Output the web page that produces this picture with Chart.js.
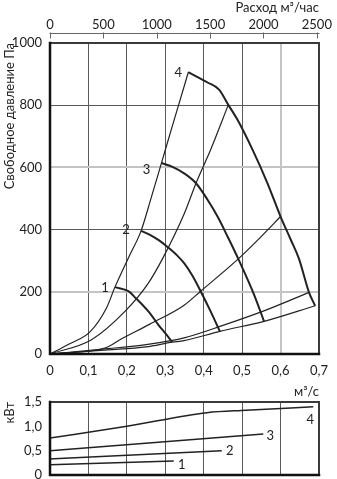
<!DOCTYPE html>
<html>
<head>
<meta charset="utf-8">
<script src="https://cdn.jsdelivr.net/npm/chart.js@4.4.0/dist/chart.umd.min.js"></script>
<style>
  body { margin: 0; background: #fff; }
  #wrap { position: relative; width: 337px; height: 479px; }
  #pressureChart { position: absolute; left: 0; top: 0; }
  #powerChart { position: absolute; left: 0; top: 380px; }
</style>
</head>
<body>
<div id="wrap">
  <canvas id="pressureChart" width="337" height="400"></canvas>
  <canvas id="powerChart" width="337" height="99"></canvas>
</div>
<script>
// axis ticks
const flowTicks = [0, 0.1, 0.2, 0.3, 0.4, 0.5, 0.6, 0.7];       // м³/с
const hourTicks = [0, 500, 1000, 1500, 2000, 2500];             // м³/час
const pressureTicks = [0, 200, 400, 600, 800, 1000];            // Па
const powerTicks = [0, 0.5, 1, 1.5];                            // кВт

// fan curves 1..4, [flow m³/s, pressure Pa]
const fan1 = [[0.169, 215], [0.204, 202], [0.223, 180], [0.256, 137], [0.282, 94], [0.303, 62], [0.318, 38]];
const fan2 = [[0.237, 396], [0.260, 383], [0.283, 366], [0.305, 345], [0.330, 318], [0.349, 292], [0.370, 253], [0.392, 202], [0.418, 137], [0.442, 73]];
const fan3 = [[0.290, 614], [0.320, 601], [0.349, 581], [0.380, 549], [0.410, 496], [0.436, 442], [0.462, 378], [0.490, 306], [0.531, 191], [0.557, 105]];
const fan4 = [[0.360, 906], [0.410, 873], [0.440, 850], [0.464, 801], [0.488, 753], [0.527, 657], [0.566, 549], [0.600, 442], [0.626, 369], [0.648, 306], [0.674, 198], [0.690, 155]];

// system curves, steepest first
const sysA = [[0, 0], [0.050, 32], [0.104, 71], [0.147, 148], [0.169, 215], [0.204, 309], [0.237, 396], [0.264, 505], [0.290, 614], [0.320, 740], [0.349, 860], [0.360, 906]];
const sysB = [[0, 0], [0.108, 46], [0.195, 137], [0.256, 228], [0.294, 309], [0.349, 450], [0.380, 549], [0.405, 620], [0.418, 657], [0.464, 801]];
const sysC = [[0, 0], [0.147, 21], [0.182, 46], [0.260, 96], [0.349, 157], [0.392, 202], [0.490, 306], [0.545, 372], [0.600, 442]];
const sysD = [[0, 0], [0.150, 17], [0.250, 30], [0.349, 52], [0.450, 92], [0.553, 137], [0.674, 198]];
const sysE = [[0, 0], [0.150, 13], [0.250, 23], [0.318, 38], [0.349, 43], [0.442, 73], [0.557, 105], [0.690, 155]];

// motor power, [flow m³/s, kW]
const pow1 = [[0, 0.21], [0.322, 0.29]];
const pow2 = [[0, 0.33], [0.447, 0.50]];
const pow3 = [[0, 0.50], [0.555, 0.84]];
const pow4 = [[0, 0.76], [0.200, 1.00], [0.408, 1.28], [0.510, 1.33], [0.685, 1.40]];

const INK = '#222';
const GRID = '#5a5a5a';
const GRID_LIGHT = '#c4c4c4';

Chart.defaults.font.family = 'Lato, "DejaVu Sans", sans-serif';
Chart.defaults.font.size = 13;
Chart.defaults.color = INK;
Chart.defaults.animation = false;
Chart.defaults.events = [];
Chart.defaults.plugins.legend.display = false;
Chart.defaults.plugins.tooltip.enabled = false;

const pts = arr => arr.map(([x, y]) => ({ x: x, y: y }));
const comma = v => v === 0 ? '0' : Number(v).toFixed(1).replace('.', ',');
const plain = v => String(v);
const setTicks = list => scale => { scale.ticks = list.map(v => ({ value: v })); };

function curve(arr, width, tag) {
  return {
    data: pts(arr),
    showLine: true,
    borderColor: INK,
    borderWidth: width,
    pointRadius: 0,
    cubicInterpolationMode: 'monotone',
    tag: tag
  };
}

// frame round the plot, curve numbers, and the m³/час axis line
const decor = {
  id: 'decor',
  afterDatasetsDraw(chart) {
    const { ctx, chartArea: a, scales } = chart;
    ctx.save();
    ctx.lineCap = 'square';
    ctx.strokeStyle = '#3a3a3a';
    ctx.lineWidth = 2;
    ctx.beginPath();
    ctx.moveTo(a.left, a.top);
    ctx.lineTo(a.right, a.top);
    ctx.lineTo(a.right, a.bottom);
    ctx.stroke();
    ctx.strokeStyle = '#111';
    ctx.lineWidth = 2.5;
    ctx.beginPath();
    ctx.moveTo(a.left, a.top);
    ctx.lineTo(a.left, a.bottom);
    ctx.lineTo(a.right, a.bottom);
    ctx.stroke();

    const top = scales.x2;
    if (top) {
      const y = top.bottom - 10;
      ctx.strokeStyle = '#666';
      ctx.lineWidth = 1;
      ctx.beginPath();
      ctx.moveTo(top.left, y + 0.5);
      ctx.lineTo(top.right, y + 0.5);
      top.ticks.forEach(t => {
        const x = Math.round(top.getPixelForValue(t.value)) + 0.5;
        ctx.moveTo(x, y);
        ctx.lineTo(x, y + 5);
      });
      ctx.stroke();
    }

    ctx.fillStyle = INK;
    ctx.font = '13px Lato, "DejaVu Sans", sans-serif';
    ctx.textAlign = 'center';
    ctx.textBaseline = 'middle';
    chart.data.datasets.forEach(ds => {
      if (!ds.tag) return;
      const p = ds.tag.at === 'start' ? ds.data[0] : ds.data[ds.data.length - 1];
      const x = scales.x.getPixelForValue(p.x) + ds.tag.dx;
      const yy = scales.y.getPixelForValue(p.y) + ds.tag.dy;
      ctx.fillText(ds.tag.text, x, yy);
    });
    ctx.restore();
  }
};

const isLight = (v, list) => list.some(l => Math.abs(v - l) < 1e-9);

new Chart(document.getElementById('pressureChart'), {
  type: 'scatter',
  data: {
    datasets: [
      curve(fan1, 2, { text: '1', at: 'start', dx: -10, dy: 1 }),
      curve(fan2, 2, { text: '2', at: 'start', dx: -15, dy: -1 }),
      curve(fan3, 2, { text: '3', at: 'start', dx: -15, dy: 7 }),
      curve(fan4, 2, { text: '4', at: 'start', dx: -10, dy: 1 }),
      curve(sysA, 1.2),
      curve(sysB, 1.2),
      curve(sysC, 1.2),
      curve(sysD, 1.2),
      curve(sysE, 1.2)
    ]
  },
  options: {
    responsive: false,
    layout: { padding: { top: 0, right: 18, bottom: 0, left: 0 } },
    scales: {
      x: {
        type: 'linear',
        position: 'bottom',
        min: 0,
        max: 0.7,
        afterBuildTicks: setTicks(flowTicks),
        afterFit: s => { s.height = 46; },
        border: { display: false },
        grid: {
          drawTicks: false,
          color: c => isLight(c.tick.value, [0.6]) ? GRID_LIGHT : GRID,
          lineWidth: c => isLight(c.tick.value, [0.6]) ? 2 : 1
        },
        ticks: { padding: 9, callback: v => comma(v) },
        title: { display: true, text: 'м³/с', align: 'end', padding: 0 }
      },
      x2: {
        type: 'linear',
        position: 'top',
        min: 0,
        max: 0.7 * 3600,
        afterBuildTicks: setTicks(hourTicks),
        afterFit: s => { s.height = 43; },
        border: { display: false },
        grid: { drawOnChartArea: false, tickLength: 10, tickColor: 'transparent' },
        ticks: { padding: 0, callback: plain },
        title: { display: true, text: 'Расход м³/час', align: 'end', padding: 0 }
      },
      y: {
        type: 'linear',
        min: 0,
        max: 1000,
        afterBuildTicks: setTicks(pressureTicks),
        afterFit: s => { s.width = 50; },
        border: { display: false },
        grid: {
          drawTicks: false,
          color: c => isLight(c.tick.value, [200, 600]) ? GRID_LIGHT : GRID,
          lineWidth: c => isLight(c.tick.value, [200, 600]) ? 2 : 1
        },
        ticks: { padding: 8, callback: plain },
        title: { display: true, text: 'Свободное давление Па', align: 'end', padding: { top: 2, bottom: 2 } }
      }
    }
  },
  plugins: [decor]
});

new Chart(document.getElementById('powerChart'), {
  type: 'scatter',
  data: {
    datasets: [
      curve(pow1, 1.5, { text: '1', at: 'end', dx: 8, dy: 4 }),
      curve(pow2, 1.5, { text: '2', at: 'end', dx: 8, dy: 0 }),
      curve(pow3, 1.5, { text: '3', at: 'end', dx: 7, dy: 2 }),
      curve(pow4, 1.5, { text: '4', at: 'end', dx: -3, dy: 13 })
    ]
  },
  options: {
    responsive: false,
    layout: { padding: { top: 22, right: 18, bottom: 0, left: 0 } },
    scales: {
      x: {
        type: 'linear',
        min: 0,
        max: 0.7,
        afterBuildTicks: setTicks(flowTicks),
        afterFit: s => { s.height = 4; },
        border: { display: false },
        grid: { drawTicks: false, color: GRID, lineWidth: 1 },
        ticks: { display: false }
      },
      y: {
        type: 'linear',
        min: 0,
        max: 1.5,
        afterBuildTicks: setTicks(powerTicks),
        // the bottom label may run to the canvas edge
        afterFit: s => { s.width = 50; s.paddingTop = 0; s.paddingBottom = 0; },
        border: { display: false },
        grid: { drawTicks: false, drawOnChartArea: false },
        ticks: { padding: 8, callback: v => comma(v) },
        title: { display: true, text: 'кВт', align: 'end', padding: { top: 2, bottom: 2 } }
      }
    }
  },
  plugins: [decor]
});
</script>
</body>
</html>
